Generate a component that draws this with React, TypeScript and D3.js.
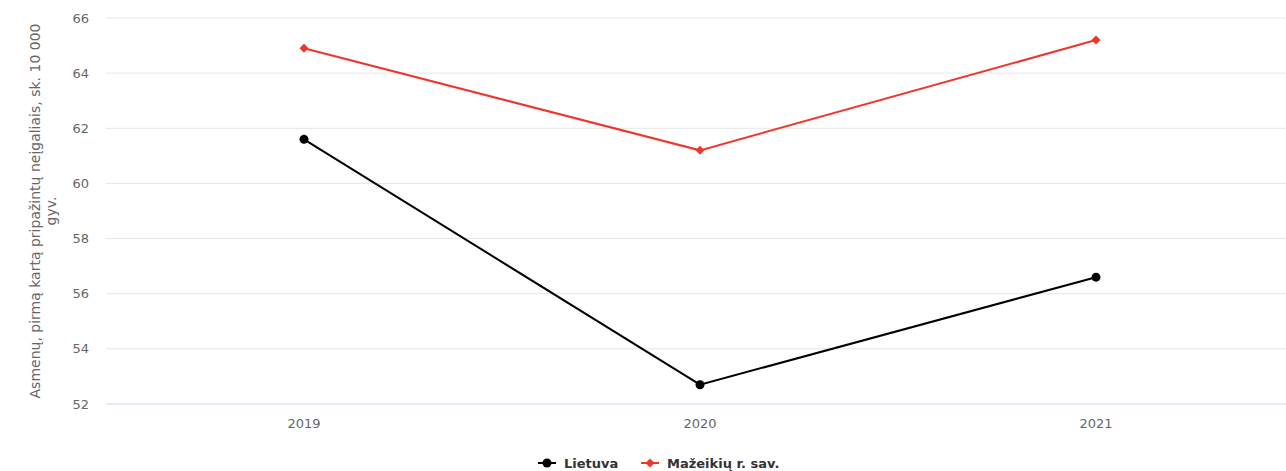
import React from "react";
import * as d3 from "d3";

const categories = ["2019", "2020", "2021"];
const lietuva = [61.6, 52.7, 56.6];
const mazeikiai = [64.9, 61.2, 65.2];
const yTicks = [52, 54, 56, 58, 60, 62, 64, 66];
const seriesNames = ["Lietuva", "Mažeikių r. sav."];

const W = 1286;
const H = 471;
const FONT = "'DejaVu Sans', 'Lucida Grande', sans-serif";

export default function App() {
  const x = d3.scaleBand<string>().domain(categories).range([106, 1294]);
  const y = d3.scaleLinear().domain([52, 66]).range([404, 18]);
  const cx = (c: string) => (x(c) as number) + x.bandwidth() / 2;
  const line = d3
    .line<number>()
    .x((_, i) => cx(categories[i]))
    .y((d) => y(d));
  const diamond = "M0,-4.5L4.5,0L0,4.5L-4.5,0Z";

  return (
    <svg
      width={W}
      height={H}
      style={{ position: "absolute", left: 0, top: 0, fontFamily: FONT }}
    >
      <rect width={W} height={H} fill="#fff" />
      {yTicks.map((t) => (
        <g key={t}>
          <line
            x1={106}
            x2={1294}
            y1={y(t)}
            y2={y(t)}
            stroke={t === 52 ? "#ccd6eb" : "#e6e6e6"}
            strokeWidth={1}
          />
          <text
            x={89}
            y={y(t) + 4.5}
            textAnchor="end"
            fontSize={13}
            fill="#666"
          >
            {t}
          </text>
        </g>
      ))}
      {categories.map((c) => (
        <text
          key={c}
          x={cx(c)}
          y={428}
          textAnchor="middle"
          fontSize={13}
          fill="#666"
        >
          {c}
        </text>
      ))}
      <text
        transform="translate(40,211) rotate(-90)"
        textAnchor="middle"
        fontSize={14}
        fill="#666"
      >
        <tspan x={0} dy={0}>
          Asmenų, pirmą kartą pripažintų neįgaliais, sk. 10 000
        </tspan>
        <tspan x={0} dy={16}>
          gyv.
        </tspan>
      </text>
      <path d={line(lietuva) as string} fill="none" stroke="#000" strokeWidth={2} />
      {lietuva.map((v, i) => (
        <circle key={i} cx={cx(categories[i])} cy={y(v)} r={4.5} fill="#000" />
      ))}
      <path d={line(mazeikiai) as string} fill="none" stroke="#f0352b" strokeWidth={2} />
      {mazeikiai.map((v, i) => (
        <path
          key={i}
          d={diamond}
          transform={`translate(${cx(categories[i])},${y(v)})`}
          fill="#f0352b"
        />
      ))}
      <g fontSize={13} fontWeight="bold" fill="#333">
        <line x1={538} x2={556} y1={463} y2={463} stroke="#000" strokeWidth={2} />
        <circle cx={547} cy={463} r={4.5} fill="#000" />
        <text x={564} y={467.5}>{seriesNames[0]}</text>
        <line x1={641} x2={659} y1={463} y2={463} stroke="#f0352b" strokeWidth={2} />
        <path d={diamond} transform="translate(650,463)" fill="#f0352b" />
        <text x={667} y={467.5}>{seriesNames[1]}</text>
      </g>
    </svg>
  );
}
